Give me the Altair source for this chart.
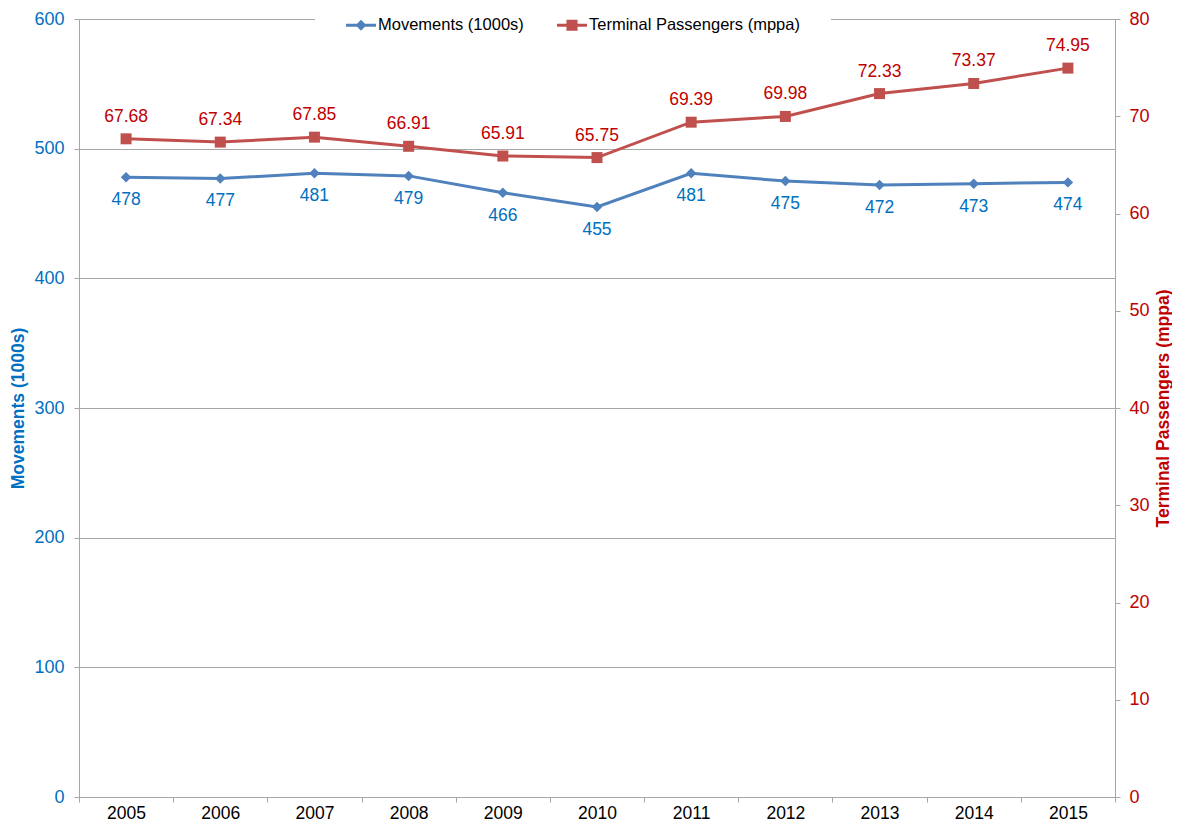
import altair as alt
import pandas as pd

years = ["2005", "2006", "2007", "2008", "2009", "2010", "2011", "2012", "2013", "2014", "2015"]
movements = [478, 477, 481, 479, 466, 455, 481, 475, 472, 473, 474]
passengers = [67.68, 67.34, 67.85, 66.91, 65.91, 65.75, 69.39, 69.98, 72.33, 73.37, 74.95]
series_names = ["Movements (1000s)", "Terminal Passengers (mppa)"]
left_ticks = [0, 100, 200, 300, 400, 500, 600]
right_ticks = [0, 10, 20, 30, 40, 50, 60, 70, 80]

df = pd.DataFrame({"year": years, "movements": movements, "passengers": passengers})

FONT = "Liberation Sans"
GRID = "#a6a6a6"
BLUE_LINE = "#4F81BD"
RED_LINE = "#C0504D"
BLUE_TXT = "#0070C0"
RED_TXT = "#C00000"

# legend symbols: line with marker
PATH_DIAMOND = "M-1,-0.1L1,-0.1L1,0.1L-1,0.1Z M0,-0.36L0.36,0L0,0.36L-0.36,0Z"
PATH_SQUARE = "M-1,-0.1L1,-0.1L1,0.1L-1,0.1Z M-0.37,-0.37L0.37,-0.37L0.37,0.37L-0.37,0.37Z"

x_enc = alt.X(
    "year:O",
    scale=alt.Scale(type="band", paddingInner=0, paddingOuter=0),
    bandPosition=0.5,
    axis=alt.Axis(
        title=None, tickBand="extent", labelAngle=0, labelFontSize=17.5,
        labelColor="black", labelFont=FONT, labelPadding=2, tickSize=5,
        tickColor=GRID, domainColor=GRID, grid=False,
    ),
)

y_mov = alt.Y(
    "movements:Q",
    scale=alt.Scale(domain=[0, 600], nice=False, zero=True),
    axis=alt.Axis(
        orient="left", title="Movements (1000s)", values=left_ticks, grid=True,
        gridColor=GRID, gridWidth=1, domainColor=GRID, tickColor=GRID, tickSize=5,
        labelFontSize=18, labelFont=FONT, labelColor=BLUE_TXT, labelPadding=10,
        titleFont=FONT, titleFontSize=17.5, titleFontWeight="bold",
        titleColor=BLUE_TXT, titlePadding=6,
    ),
)

y_pas = alt.Y(
    "passengers:Q",
    scale=alt.Scale(domain=[0, 80], nice=False, zero=True),
    axis=alt.Axis(
        orient="right", title="Terminal Passengers (mppa)", values=right_ticks, grid=False,
        domainColor=GRID, tickColor=GRID, tickSize=5,
        labelFontSize=18, labelFont=FONT, labelColor=RED_TXT, labelPadding=9,
        titleFont=FONT, titleFontSize=17.5, titleFontWeight="bold",
        titleColor=RED_TXT, titlePadding=5, titleAngle=270, titleBaseline="top",
    ),
)

base = alt.Chart(df)

leg = alt.Legend(
    title=None, orient="none", legendX=236, legendY=-40, direction="horizontal",
    fillColor="white", padding=31, columnPadding=33, labelOffset=2, labelLimit=0,
    symbolSize=900, symbolStrokeWidth=0, symbolOpacity=1,
    labelFontSize=16.5, labelFont=FONT, labelColor="black",
)

line_m = base.mark_line(color=BLUE_LINE, strokeWidth=3).encode(x=x_enc, y=y_mov)
pts_m = base.mark_point(shape="diamond", filled=True, size=110, color=BLUE_LINE, opacity=1).encode(x=x_enc, y=y_mov)
txt_m = base.mark_text(color=BLUE_TXT, fontSize=17.5, font=FONT, dy=23).encode(
    x=x_enc, y=y_mov, text=alt.Text("movements:Q")
)
legend_layer = base.mark_point(filled=True, opacity=0, size=900).encode(
    x=x_enc,
    y=y_mov,
    color=alt.Color("series:N", scale=alt.Scale(domain=series_names, range=[BLUE_LINE, RED_LINE]), legend=leg),
    shape=alt.Shape("series:N", scale=alt.Scale(domain=series_names, range=[PATH_DIAMOND, PATH_SQUARE]), legend=leg),
).transform_calculate(series="'Movements (1000s)'")

line_p = base.mark_line(color=RED_LINE, strokeWidth=3).encode(x=x_enc, y=y_pas)
pts_p = base.mark_point(shape="square", filled=True, size=121, color=RED_LINE, opacity=1).encode(x=x_enc, y=y_pas)
txt_p = base.mark_text(color=RED_TXT, fontSize=17.5, font=FONT, dy=-22).encode(
    x=x_enc, y=y_pas, text=alt.Text("passengers:Q", format=".2f")
)

layer_a = alt.layer(line_m, pts_m, txt_m, legend_layer)
layer_b = alt.layer(line_p, pts_p, txt_p)

chart = (
    alt.layer(layer_a, layer_b)
    .resolve_scale(y="independent")
    .properties(
        width=1036, height=778,
        autosize=alt.AutoSizeParams(type="none"),
        padding={"left": 71, "top": 11, "right": 57, "bottom": 25},
    )
    .configure_view(stroke=None)
    .configure(background="white")
)

chart.save("out.html", embed_options={"renderer": "svg", "actions": False})
